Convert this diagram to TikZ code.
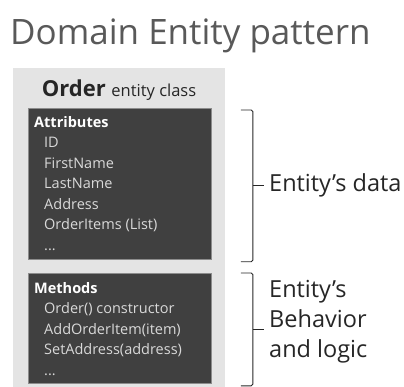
\documentclass[tikz,border=0pt]{standalone}
\usepackage{fontspec}
\setmainfont{Open Sans}
\usetikzlibrary{positioning,calc}
\definecolor{titlecol}{HTML}{595959}
\definecolor{panelcol}{HTML}{E4E4E4}
\definecolor{boxcol}{HTML}{404040}
\definecolor{edgecol}{HTML}{8C8C8C}
\definecolor{itemcol}{HTML}{D9D9D9}
\definecolor{notecol}{HTML}{262626}
\tikzset{
  panel/.style={
    rectangle, fill=panelcol, draw=none,
    minimum width=212pt, minimum height=330pt,
    anchor=north west,
  },
  darkbox/.style={
    rectangle, draw=edgecol, fill=boxcol, line width=0.8pt,
    minimum width=183pt, anchor=north west, inner sep=0pt,
  },
  listtext/.style={
    anchor=north west, align=left, inner sep=0pt, text=itemcol,
    font=\fontsize{14.5}{20.5}\selectfont,
  },
  bracket/.style={line width=0.9pt, draw=notecol, rounded corners=1.5pt},
  note/.style={anchor=north west, align=left, inner sep=0pt, text=notecol,
    font=\fontsize{23.5}{30}\selectfont},
}
\newcommand{\itm}[1]{\hspace*{10pt}#1}

\begin{document}
\begin{tikzpicture}[x=1pt,y=-1pt]
\useasboundingbox (0,0) rectangle (404,387);

% ===== Title =====
\node[anchor=base west, inner sep=0pt, text=titlecol, font=\fontsize{35}{35}\selectfont] (title) at (10,45) {Domain Entity pattern};

% ===== Entity class panel =====
\node[panel] (panel) at (13,68) {};
\node[anchor=base, inner sep=0pt, text=black!85] (classname) at (119,97)
  {\fontsize{22}{22}\selectfont\bfseries Order \fontsize{16.5}{16.5}\selectfont\mdseries entity class};

% ===== Attributes =====
\node[darkbox, minimum height=151pt] (attrs) at (28,108) {};
\node[listtext] (attrlist) at (34,116) {%
  \textcolor{white}{\bfseries Attributes}\\
  \itm{ID}\\
  \itm{FirstName}\\
  \itm{LastName}\\
  \itm{Address}\\
  \itm{OrderItems (List)}\\
  \itm{...}};

% ===== Methods =====
\node[darkbox, minimum height=110pt] (meths) at (28,273) {};
\node[listtext] (methlist) at (34,282) {%
  \textcolor{white}{\bfseries Methods}\\
  \itm{Order() constructor}\\
  \itm{AddOrderItem(item)}\\
  \itm{SetAddress(address)}\\
  \itm{...}};

% ===== Brackets and notes =====
\coordinate (datatop) at ([xshift=29pt,yshift=-2pt]attrs.north east);
\coordinate (databot) at ([xshift=29pt,yshift=-2pt]attrs.south east);
\coordinate (datamid) at ($(datatop)!0.5!(databot)+(12,0)$);
\draw[bracket] (datatop) -- ++(12,0) -- ($(databot)+(12,0)$) -- (databot);
\draw[bracket] (datamid) -- ++(11,0);
\node[note, anchor=base west] (datanote) at (269,192) {Entity’s data};

\coordinate (logictop) at ([xshift=29pt]meths.north east);
\coordinate (logicbot) at ([xshift=29pt,yshift=-2pt]meths.south east);
\coordinate (logicmid) at ($(logictop)!0.5!(logicbot)+(12,0)$);
\draw[bracket] (logictop) -- ++(12,0) -- ($(logicbot)+(12,0)$) -- (logicbot);
\draw[bracket] (logicmid) -- ++(11,0);
\node[note] (logicnote) at (269,280) {Entity’s\\Behavior\\and logic};

\end{tikzpicture}
\end{document}
